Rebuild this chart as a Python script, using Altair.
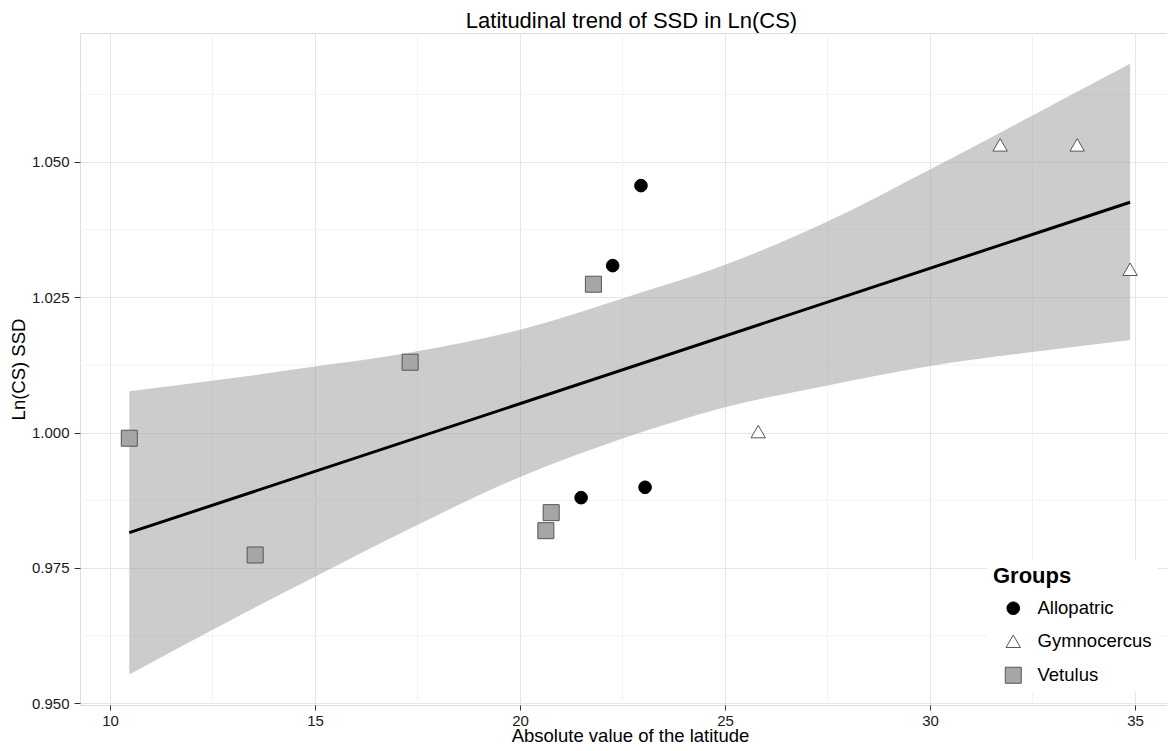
import altair as alt
import pandas as pd

FONT = "Liberation Sans"

# ---- data ----
group = ["Allopatric"] * 4 + ["Gymnocercus"] * 4 + ["Vetulus"] * 6
lat = [21.49, 22.26, 22.95, 23.05,
       25.81, 31.71, 33.59, 34.88,
       10.47, 13.54, 17.32, 20.63, 20.76, 21.79]
ssd = [0.98799, 1.03086, 1.04564, 0.98991,
       1.00020, 1.05316, 1.05316, 1.03019,
       0.99897, 0.97740, 1.01301, 0.98189, 0.98522, 1.02742]

# fitted line (end points)
fit_lat = [10.47, 34.88]
fit_ssd = [0.98152, 1.04257]

# confidence band edges
band_lat = [10.47, 13.0, 15.0, 17.32, 20.0, 22.5, 25.0, 27.5, 30.0, 32.5, 34.88]
band_lo = [0.95534, 0.9656, 0.9734, 0.9823, 0.9918, 0.9989, 1.0047, 1.0087, 1.0123, 1.0149, 1.01712]
band_hi = [1.00765, 1.0101, 1.0122, 1.0148, 1.0190, 1.0248, 1.0310, 1.0390, 1.0486, 1.0586, 1.06813]

x_major = [10, 15, 20, 25, 30, 35]
x_minor = [12.5, 17.5, 22.5, 27.5, 32.5]
y_major = [0.950, 0.975, 1.000, 1.025, 1.050]
y_minor = [0.9625, 0.9875, 1.0125, 1.0375, 1.0625]

group_names = ["Allopatric", "Gymnocercus", "Vetulus"]
group_shapes = ["circle", "triangle-up", "square"]
group_fills = ["#000000", "#FFFFFF", "#A6A6A6"]
group_strokes = ["#000000", "#555555", "#555555"]
group_sizes = [160, 256, 205]

pts = pd.DataFrame({"lat": lat, "ssd": ssd, "group": group})
fit = pd.DataFrame({"lat": fit_lat, "ssd": fit_ssd})
band = pd.DataFrame({"lat": band_lat, "lo": band_lo, "hi": band_hi})
xminor = pd.DataFrame({"lat": x_minor})
yminor = pd.DataFrame({"ssd": y_minor})

xscale = alt.Scale(domain=[9.268, 35.78], nice=False, zero=False)
yscale = alt.Scale(domain=[0.94969, 1.07383], nice=False, zero=False)

xaxis = alt.Axis(
    title="Absolute value of the latitude", values=x_major, format="d",
    grid=True, gridColor="#E6E6E6", gridWidth=1, domain=False,
    ticks=True, tickSize=5, tickColor="#333333", tickWidth=1,
    labelFont=FONT, labelFontSize=15, labelColor="#1A1A1A", labelPadding=3,
    labelFlush=False,
    titleFont=FONT, titleFontSize=18.5, titleFontWeight="normal", titleColor="#000000",
    titleX=550, titleY=36, titleBaseline="alphabetic", titleAlign="center",
)
yaxis = alt.Axis(
    title="Ln(CS) SSD", values=y_major, format=".3f",
    grid=True, gridColor="#E6E6E6", gridWidth=1, domain=False,
    ticks=True, tickSize=6, tickColor="#333333", tickWidth=1,
    labelFont=FONT, labelFontSize=15, labelColor="#1A1A1A", labelPadding=5,
    labelFlush=False,
    titleFont=FONT, titleFontSize=18.5, titleFontWeight="normal", titleColor="#000000",
    titleX=-61.5, titleY=336, titleAngle=270, titleBaseline="middle", titleAlign="center",
)

X = lambda f: alt.X(f, scale=xscale, axis=xaxis)
Y = lambda f: alt.Y(f, scale=yscale, axis=yaxis)

minor_x = alt.Chart(xminor).mark_rule(color="#F2F2F2", strokeWidth=1).encode(x=X("lat:Q"))
minor_y = alt.Chart(yminor).mark_rule(color="#F2F2F2", strokeWidth=1).encode(y=Y("ssd:Q"))

ribbon = alt.Chart(band).mark_area(color="#999999", opacity=0.5, interpolate="monotone").encode(
    x=X("lat:Q"), y=Y("lo:Q"), y2="hi:Q"
)
line = alt.Chart(fit).mark_line(color="#000000", strokeWidth=3).encode(
    x=X("lat:Q"), y=Y("ssd:Q")
)

leg = alt.Legend(
    title="Groups", orient="none", legendX=907, legendY=527, padding=6,
    fillColor="#FFFFFF",
    titleFont=FONT, titleFontSize=22, titleFontWeight="bold", titleColor="#000000",
    titlePadding=11,
    labelFont=FONT, labelFontSize=18.5, labelColor="#000000", labelOffset=15,
    symbolOffset=11, rowPadding=14, symbolStrokeWidth=1,
)

points = alt.Chart(pts).mark_point(filled=True, opacity=1, strokeWidth=1).encode(
    x=X("lat:Q"),
    y=Y("ssd:Q"),
    shape=alt.Shape("group:N", scale=alt.Scale(domain=group_names, range=group_shapes), legend=leg),
    fill=alt.Fill("group:N", scale=alt.Scale(domain=group_names, range=group_fills), legend=leg),
    stroke=alt.Stroke("group:N", scale=alt.Scale(domain=group_names, range=group_strokes), legend=leg),
    size=alt.Size("group:N", scale=alt.Scale(domain=group_names, range=group_sizes), legend=leg),
)

chart = alt.layer(minor_x, minor_y, ribbon, line, points).properties(
    width=1087,
    height=672,
    autosize=alt.AutoSizeParams(type="none"),
    padding={"left": 72, "top": 25, "right": 0, "bottom": 38},
    title=alt.TitleParams(
        "Latitudinal trend of SSD in Ln(CS)", font=FONT, fontSize=22,
        fontWeight="normal", color="#000000", anchor="middle", offset=0, dx=8,
    ),
).configure_view(stroke="#7F7F7F", strokeWidth=1.3).configure(background="#FFFFFF")

chart.save("out.html", embed_options={"renderer": "svg", "actions": False})
